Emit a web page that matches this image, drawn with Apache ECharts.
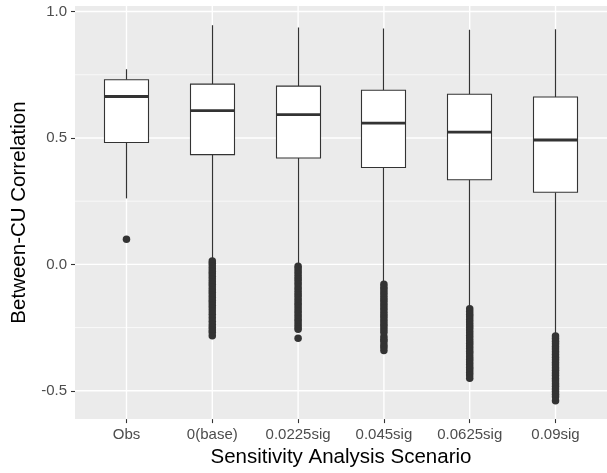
<!DOCTYPE html>
<html>
<head>
<meta charset="utf-8">
<style>
  html, body { margin: 0; padding: 0; background: #ffffff; }
  #chart { width: 607px; height: 473px; }
</style>
<script src="https://cdn.jsdelivr.net/npm/echarts@6/dist/echarts.min.js"></script>
</head>
<body>
<div id="chart"></div>
<script>
// Scenario names along the x axis
const scenarios = ['Obs', '0(base)', '0.0225sig', '0.045sig', '0.0625sig', '0.09sig'];

// Five-number summaries of the between-CU correlation per scenario
const whiskerLow  = [0.261, 0.022, 0.000, -0.072, -0.170, -0.278];
const quartile1   = [0.482, 0.434, 0.421, 0.383, 0.335, 0.285];
const medians     = [0.664, 0.608, 0.592, 0.559, 0.523, 0.492];
const quartile3   = [0.730, 0.713, 0.705, 0.689, 0.673, 0.662];
const whiskerHigh = [0.772, 0.946, 0.937, 0.933, 0.928, 0.930];

// Outlying correlations per scenario
const outObs = [0.099];
const outBase = [0.013, 0.004, -0.006, -0.017, -0.028, -0.037, -0.048, -0.058, -0.069, -0.079,
  -0.089, -0.100, -0.110, -0.121, -0.131, -0.142, -0.152, -0.163, -0.173, -0.184,
  -0.197, -0.211, -0.225, -0.238, -0.249, -0.260, -0.268, -0.282];
const out0225 = [-0.007, -0.017, -0.028, -0.038, -0.049, -0.059, -0.070, -0.080, -0.091, -0.101,
  -0.112, -0.122, -0.133, -0.143, -0.154, -0.164, -0.175, -0.185, -0.196, -0.206,
  -0.217, -0.227, -0.238, -0.248, -0.257, -0.292];
const out045 = [-0.079, -0.090, -0.100, -0.111, -0.121, -0.132, -0.142, -0.153, -0.163, -0.174,
  -0.184, -0.195, -0.205, -0.216, -0.226, -0.237, -0.247, -0.258, -0.268, -0.285,
  -0.296, -0.304, -0.318, -0.328, -0.341];
const out0625 = [-0.176, -0.186, -0.197, -0.207, -0.218, -0.228, -0.239, -0.249, -0.260, -0.270,
  -0.281, -0.291, -0.302, -0.312, -0.323, -0.333, -0.344, -0.354, -0.365, -0.375,
  -0.386, -0.396, -0.407, -0.417, -0.428, -0.438, -0.450];
const out09 = [-0.283, -0.293, -0.304, -0.314, -0.325, -0.335, -0.346, -0.356, -0.367, -0.377,
  -0.388, -0.398, -0.409, -0.419, -0.430, -0.440, -0.451, -0.461, -0.472, -0.482,
  -0.493, -0.503, -0.514, -0.524, -0.539];
const outlierGroups = [outObs, outBase, out0225, out045, out0625, out09];

// Axis ticks and grid positions
const yTicks = [-0.5, 0, 0.5, 1.0];
const yMinorGrid = [-0.25, 0.25, 0.75];
const xPositions = [1, 2, 3, 4, 5, 6];

const boxRows = scenarios.map((s, i) => [xPositions[i], whiskerLow[i], quartile1[i], medians[i], quartile3[i], whiskerHigh[i]]);
const outlierPoints = [];
outlierGroups.forEach((g, i) => g.forEach(v => outlierPoints.push([xPositions[i], v])));

// rows: [direction (0 = horizontal, 1 = vertical), value, line width]
const gridRows = [];
yTicks.forEach(v => gridRows.push([0, v, 1.4]));
yMinorGrid.forEach(v => gridRows.push([0, v, 0.7]));
xPositions.forEach(v => gridRows.push([1, v, 1.4]));

const INK = '#333333';
const FONT = 'Liberation Sans, Arial, sans-serif';

const chart = echarts.init(document.getElementById('chart'), null, { renderer: 'canvas' });
chart.setOption({
  animation: false,
  backgroundColor: '#ffffff',
  grid: {
    left: 75, top: 6, width: 535, height: 414,
    show: true, backgroundColor: '#EBEBEB', borderWidth: 0
  },
  xAxis: {
    type: 'value', min: 0.4, max: 6.6,
    name: 'Sensitivity Analysis Scenario',
    nameLocation: 'middle', nameGap: 27,
    nameTextStyle: { color: '#000000', fontSize: 20.5, fontFamily: FONT },
    axisLine: { show: false, onZero: false },
    splitLine: { show: false },
    axisTick: { show: true, customValues: xPositions, length: 4, lineStyle: { color: INK, width: 1.1 } },
    axisLabel: {
      customValues: xPositions, margin: 8,
      color: '#4D4D4D', fontSize: 15, fontFamily: FONT,
      formatter: v => scenarios[Math.round(v) - 1] || ''
    }
  },
  yAxis: {
    type: 'value', min: -0.612, max: 1.022,
    name: 'Between-CU Correlation',
    nameLocation: 'middle', nameGap: 43, nameRotate: 90,
    nameTextStyle: { color: '#000000', fontSize: 20.5, fontFamily: FONT },
    axisLine: { show: false, onZero: false },
    splitLine: { show: false },
    axisTick: { show: true, customValues: yTicks, length: 4, lineStyle: { color: INK, width: 1.1 } },
    axisLabel: {
      customValues: yTicks, margin: 8,
      color: '#4D4D4D', fontSize: 15, fontFamily: FONT,
      formatter: v => v.toFixed(1)
    }
  },
  series: [
    {
      // white panel grid lines
      type: 'custom', z: 0, silent: true,
      data: gridRows,
      renderItem: function (params, api) {
        const cs = params.coordSys;
        const dir = api.value(0);
        const v = api.value(1);
        let shape;
        if (dir === 0) {
          const y = api.coord([1, v])[1];
          shape = { x1: cs.x, y1: y, x2: cs.x + cs.width, y2: y };
        } else {
          const x = api.coord([v, 0])[0];
          shape = { x1: x, y1: cs.y, x2: x, y2: cs.y + cs.height };
        }
        return { type: 'line', shape: shape, style: { stroke: '#ffffff', lineWidth: api.value(2) } };
      }
    },
    {
      type: 'custom', z: 2,
      data: boxRows,
      renderItem: function (params, api) {
        const x = api.value(0);
        const low = api.coord([x, api.value(1)]);
        const q1 = api.coord([x, api.value(2)]);
        const med = api.coord([x, api.value(3)]);
        const q3 = api.coord([x, api.value(4)]);
        const high = api.coord([x, api.value(5)]);
        const half = 22;
        // snap the whisker to a pixel column so it stays crisp
        const cx = Math.floor(low[0]) + 0.5;
        return {
          type: 'group',
          children: [
            { type: 'line', shape: { x1: cx, y1: high[1], x2: cx, y2: q3[1] }, style: { stroke: INK, lineWidth: 1.2 } },
            { type: 'line', shape: { x1: cx, y1: q1[1], x2: cx, y2: low[1] }, style: { stroke: INK, lineWidth: 1.2 } },
            { type: 'rect', shape: { x: cx - half, y: q3[1], width: half * 2, height: q1[1] - q3[1] },
              style: { fill: '#ffffff', stroke: INK, lineWidth: 1.1 } },
            { type: 'line', shape: { x1: cx - half, y1: med[1], x2: cx + half, y2: med[1] }, style: { stroke: INK, lineWidth: 2.8 } }
          ]
        };
      }
    },
    {
      type: 'scatter', z: 3,
      data: outlierPoints,
      symbol: 'circle', symbolSize: 7.5,
      itemStyle: { color: INK, opacity: 1 }
    }
  ]
});
</script>
</body>
</html>
